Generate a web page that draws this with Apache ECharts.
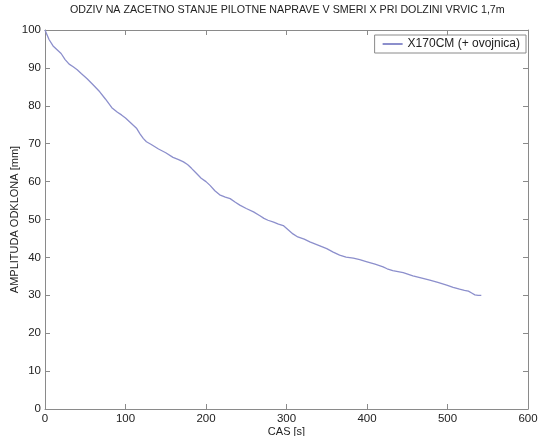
<!DOCTYPE html>
<html>
<head>
<meta charset="utf-8">
<script src="https://cdn.jsdelivr.net/npm/echarts@6/dist/echarts.min.js"></script>
<style>html,body{margin:0;padding:0;background:#fff;}#c{width:540px;height:436px;}</style>
</head>
<body>
<div id="c"></div>
<script>
var titleText = 'ODZIV NA ZACETNO STANJE PILOTNE NAPRAVE V SMERI X PRI DOLZINI VRVIC 1,7m';
var seriesName = 'X170CM (+ ovojnica)';
var xAxisName = 'CAS [s]';
var yAxisName = 'AMPLITUDA ODKLONA [mm]';
var timeValues = [0,2,5,10,15,20,25,30,35,40,45,52,60,68,75,83,90,95,100,107,114,118,122,126,132,141,150,159,166,172,177,182,188,194,200,205,211,217,224,230,236,242,250,259,267,272,277,284,290,296,302,308,314,322,329,336,343,350,358,366,374,383,391,399,410,420,425,432,445,457,467,478,488,499,507,515,521,526,530,534,538,542];
var amplitudeValues = [100,99.5,97.5,95.8,94.8,93.8,92.2,91,90.3,89.5,88.5,87.2,85.5,83.7,81.8,79.5,78.3,77.6,76.8,75.4,74,72.6,71.4,70.5,69.8,68.6,67.6,66.4,65.8,65.2,64.5,63.5,62.2,60.9,60,59,57.6,56.5,55.9,55.5,54.6,53.8,52.9,52,51,50.3,49.8,49.3,48.8,48.4,47.3,46.2,45.4,44.8,44.1,43.5,42.9,42.3,41.4,40.6,40.1,39.8,39.4,38.9,38.2,37.5,37,36.5,36,35.1,34.6,34,33.4,32.7,32.1,31.6,31.3,31.1,30.6,30.1,30,30];
var xTicks = {min: 0, max: 600, interval: 100};
var yTicks = {min: 0, max: 100, interval: 10};

var data = timeValues.map(function (t, i) { return [t, amplitudeValues[i]]; });
var font = 'Liberation Sans, Arial, sans-serif';
var axisColor = '#8a8a8a';
var textColor = '#222';

var chart = echarts.init(document.getElementById('c'), null, {renderer: 'canvas'});
var baseAxis = {
  axisLine: {show: true, onZero: false, lineStyle: {color: axisColor, width: 1}},
  axisTick: {show: true, inside: true, length: 5, lineStyle: {color: axisColor}},
  splitLine: {show: false}
};
chart.setOption({
  animation: false,
  backgroundColor: '#fff',
  title: {
    text: titleText, left: 65, top: 0,
    textStyle: {fontFamily: font, fontSize: 10.7, fontWeight: 'normal', color: textColor}
  },
  legend: {
    data: [seriesName], right: 14, top: 35,
    backgroundColor: '#fff', borderColor: axisColor, borderWidth: 1,
    padding: [3, 6, 3, 8], itemWidth: 20, itemHeight: 2, icon: 'rect', itemGap: 0,
    textStyle: {fontFamily: font, fontSize: 12, color: textColor}
  },
  grid: {left: 45, right: 12, top: 30, bottom: 27, containLabel: false, outerBoundsMode: 'none'},
  xAxis: [
    Object.assign({}, baseAxis, {
      type: 'value', position: 'bottom', min: xTicks.min, max: xTicks.max, interval: xTicks.interval,
      name: xAxisName, nameLocation: 'middle', nameGap: 17, nameMoveOverlap: false,
      nameTextStyle: {fontFamily: font, fontSize: 11, color: textColor},
      axisLabel: {margin: 4, fontFamily: font, fontSize: 11.5, color: textColor}
    }),
    Object.assign({}, baseAxis, {
      type: 'value', position: 'top', min: xTicks.min, max: xTicks.max, interval: xTicks.interval,
      axisLabel: {show: false}
    })
  ],
  yAxis: [
    Object.assign({}, baseAxis, {
      type: 'value', position: 'left', min: yTicks.min, max: yTicks.max, interval: yTicks.interval,
      name: yAxisName, nameLocation: 'middle', nameGap: 25, nameMoveOverlap: false,
      nameTextStyle: {fontFamily: font, fontSize: 11, color: textColor},
      axisLabel: {margin: 4, fontFamily: font, fontSize: 11.5, color: textColor}
    }),
    Object.assign({}, baseAxis, {
      type: 'value', position: 'right', min: yTicks.min, max: yTicks.max, interval: yTicks.interval,
      axisLabel: {show: false}
    })
  ],
  series: [{
    name: seriesName, type: 'line', data: data, showSymbol: false, symbol: 'none',
    xAxisIndex: 0, yAxisIndex: 0,
    lineStyle: {color: '#8c8fcc', width: 1.3}, itemStyle: {color: '#8c8fcc'}
  }]
});
</script>
</body>
</html>
